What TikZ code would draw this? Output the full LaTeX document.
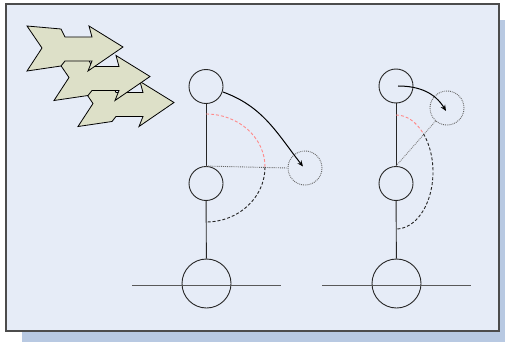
\documentclass[tikz,border=0pt]{standalone}
\usetikzlibrary{arrows.meta}
\definecolor{framefill}{HTML}{E6ECF7}
\definecolor{shadowfill}{HTML}{B8C9E2}
\definecolor{arrowfill}{HTML}{DDE0C8}
\definecolor{redarc}{HTML}{FF8A8A}
\tikzset{
  joint/.style={circle, draw=black!85, line width=0.9pt, inner sep=0pt, minimum size=34pt},
  base/.style={circle, draw=black!85, line width=0.9pt, inner sep=0pt, minimum size=49pt},
  ghost/.style={circle, draw=black!60, densely dotted, line width=0.9pt, inner sep=0pt, minimum size=34pt},
  rod/.style={draw=black!85, line width=0.9pt},
  ground/.style={draw=black!65, line width=1pt},
  guide/.style={draw=black!60, densely dotted, line width=0.9pt},
  redpath/.style={draw=redarc, dash pattern=on 3pt off 2pt, line width=0.9pt},
  blackpath/.style={draw=black!85, dash pattern=on 3pt off 2pt, line width=0.9pt},
  motion/.style={draw=black, line width=1pt, -{Stealth[length=6pt,width=5pt]}},
  bigarrow/.style={draw=black, fill=arrowfill, line width=0.8pt, line join=miter}
}
\begin{document}
\begin{tikzpicture}[x=1pt,y=-1pt]
\useasboundingbox (0,0) rectangle (505,342);
% shadow and frame
\fill[shadowfill] (22,20) rectangle (505,342);
\fill[framefill] (6,4) rectangle (499,331);
\draw[black!70, line width=1.2pt] (6,4) rectangle (499,331);

% notched arrows (back to front)
\foreach \dx/\dy in {51/55.5, 27/29.5, 0/0}{
  \begin{scope}[shift={(\dx,\dy)}]
    \draw[bigarrow] (27,26) -- (61,29) -- (65,37) -- (92,37) -- (89,26) -- (123,47)
      -- (88,71) -- (92,61) -- (65,61) -- (61,66) -- (27,71) -- (42,48) -- cycle;
  \end{scope}
}

% left pendulum
\node[joint] (L1) at (206,86.5) {};
\node[joint] (L2) at (206,183.5) {};
\node[base] (L3) at (206.5,283.5) {};
\node[ghost] (Ld) at (305,168) {};
\coordinate (Lg1) at (132,285.7);
\coordinate (Lg2) at (281,285.7);
\path[rod] (L1) -- (L2);
\path[rod] (L2) -- (L3);
\path[ground] (Lg1) -- (Lg2);
\path[guide] (L2.north) -- (Ld.west);
\path[redpath] (206,114) arc[start angle=90, end angle=0, x radius=59, y radius=-53];
\path[blackpath] (265,167) arc[start angle=0, end angle=-90, x radius=59, y radius=-55];
\coordinate (Lstart) at (223,92);
\coordinate (Lend) at (303,166.5);
\path[motion] (Lstart) to[out=-20, in=128] (Lend);

% right pendulum
\node[joint] (R1) at (396,86) {};
\node[joint] (R2) at (396,183.5) {};
\node[base] (R3) at (396.5,283.5) {};
\node[ghost] (Rd) at (447,108) {};
\coordinate (Rg1) at (322,285.7);
\coordinate (Rg2) at (471,285.7);
\path[rod] (R1) -- (R2);
\path[rod] (R2) -- (R3);
\path[ground] (Rg1) -- (Rg2);
\path[guide, draw=black!50] (R2.north) -- (Rd);
\path[redpath] (396,115) arc[start angle=90, end angle=42, x radius=37, y radius=-57];
\path[blackpath] (396,172) ++(42:37 and -57) arc[start angle=42, end angle=-90, x radius=37, y radius=-57];
\coordinate (Rstart) at (398,86);
\coordinate (Rend) at (446,111);
\path[motion] (Rstart) to[out=0, in=121] (Rend);
\end{tikzpicture}
\end{document}
